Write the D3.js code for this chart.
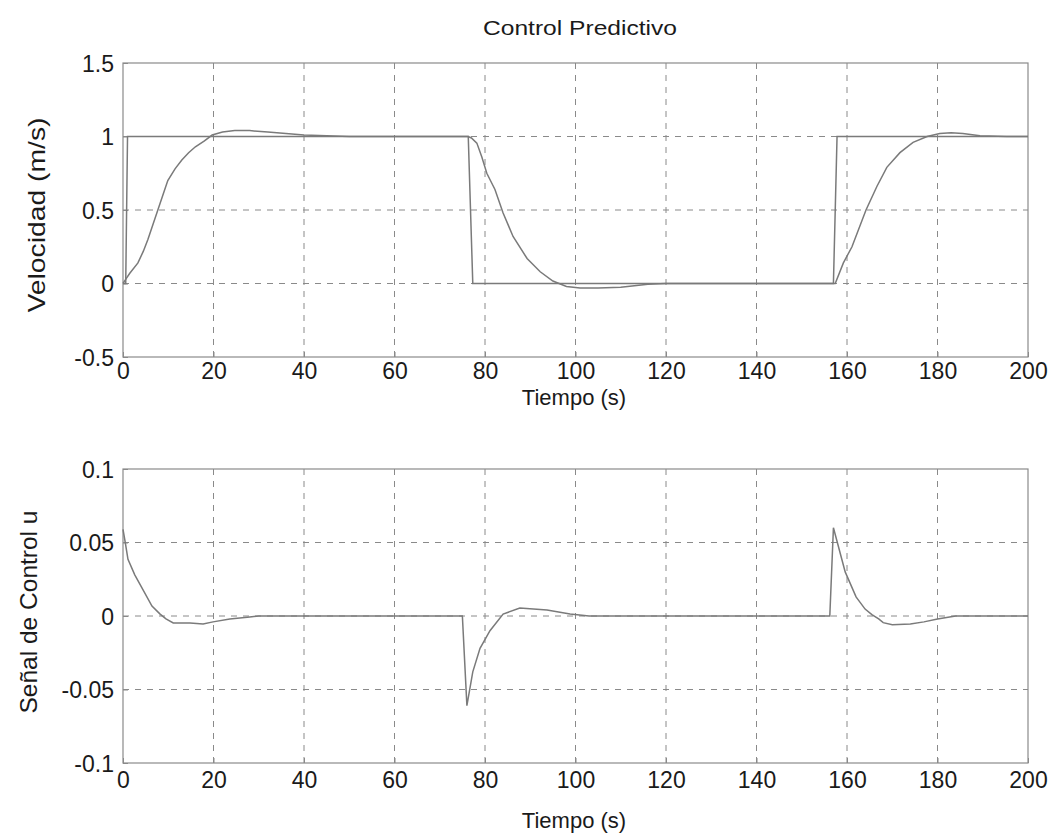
<!DOCTYPE html>
<html>
<head>
<meta charset="utf-8">
<script src="https://cdn.jsdelivr.net/npm/d3@7"></script>
<style>
  body { margin: 0; background: #fff; }
  svg text { font-family: "Liberation Sans", Arial, sans-serif; fill: #1a1a1a; }
  .grid line { stroke: #8a8a8a; stroke-dasharray: 6,6; stroke-width: 1; }
  .box { fill: none; stroke: #8a8a8a; stroke-width: 1.2; }
  .trace { fill: none; stroke: #7a7a7a; stroke-width: 1.5; }
</style>
</head>
<body>
<svg id="chart" width="1054" height="834"></svg>
<script>
// ---- data ----
const xTicks = [0, 20, 40, 60, 80, 100, 120, 140, 160, 180, 200]
const velTicks = [-0.5, 0, 0.5, 1, 1.5]
const velTickLabels = ["-0.5", "0", "0.5", "1", "1.5"]
const uTicks = [-0.1, -0.05, 0, 0.05, 0.1]
const uTickLabels = ["-0.1", "-0.05", "0", "0.05", "0.1"]

// reference velocity
const tRef = [0, 0.6, 1.0, 76.3, 77.3, 157.0, 157.8, 200]
const vRef = [0, 0, 1, 1, 0, 0, 1, 1]

// measured velocity
const tVel = [0, 0.4, 1.5, 3.3, 4.5, 5.5, 6.6, 7.7, 8.8, 9.9, 11.5, 13, 14.5, 16, 18, 19.7, 22, 24.7, 28, 32, 36, 40, 50, 60, 70, 76.3,
  77, 78.2, 79.3, 80.4, 82.2, 84, 86.2, 89.3, 92.2, 95, 98, 101, 105, 110, 113, 116, 120, 140, 157.4,
  159.2, 161.1, 164.2, 166.6, 168.8, 171.7, 174.6, 177.7, 180.5, 183, 185.6, 189.4, 195.3, 200]
const vVel = [0, 0.02, 0.07, 0.14, 0.22, 0.30, 0.40, 0.50, 0.60, 0.70, 0.78, 0.84, 0.89, 0.93, 0.97, 1.01, 1.03, 1.04, 1.04, 1.03, 1.02, 1.01, 1.0, 1.0, 1.0, 1.0,
  0.99, 0.955, 0.86, 0.75, 0.64, 0.48, 0.32, 0.17, 0.08, 0.017, -0.02, -0.03, -0.03, -0.025, -0.015, -0.005, 0, 0, 0,
  0.14, 0.25, 0.5, 0.66, 0.79, 0.89, 0.96, 1.0, 1.02, 1.025, 1.02, 1.005, 1.0, 1.0]

// control signal u
const tU = [0, 0.5, 1.1, 2.6, 4.4, 6.4, 8.2, 9.5, 11.1, 14.8, 17.7, 19.9, 23.6, 28, 30, 75,
  76, 77.3, 78.9, 81.1, 84, 87.7, 93.7, 98.8, 103, 156.2,
  157, 159.6, 162, 164, 165.5, 167, 168, 170, 174, 177, 180, 182, 184, 200]
const uVals = [0.059, 0.05, 0.0385, 0.028, 0.018, 0.0068, 0.0013, -0.002, -0.0047, -0.0047, -0.0055, -0.004, -0.002, -0.0007, 0, 0,
  -0.061, -0.038, -0.022, -0.010, 0.0013, 0.0054, 0.004, 0.0013, 0, 0,
  0.06, 0.03, 0.013, 0.0047, 0.001, -0.002, -0.0045, -0.006, -0.0055, -0.004, -0.002, -0.001, 0, 0]

const svg = d3.select("#chart")
const left = 123, right = 1028

const x = d3.scaleLinear().domain([0, 200]).range([left, right])

function panel(top, bottom, yDomain, yTicks, yLabels, yTitle, opts, series) {
  const y = d3.scaleLinear().domain(yDomain).range([bottom, top])
  const g = svg.append("g")

  // grid
  const grid = g.append("g").attr("class", "grid")
  grid.selectAll(".vx").data(xTicks.slice(1, -1)).enter().append("line")
    .attr("x1", d => x(d)).attr("x2", d => x(d))
    .attr("y1", top).attr("y2", bottom)
  grid.selectAll(".hy").data(yTicks.slice(1, -1)).enter().append("line")
    .attr("x1", left).attr("x2", right)
    .attr("y1", d => y(d)).attr("y2", d => y(d))

  // box
  g.append("rect").attr("class", "box")
    .attr("x", left).attr("y", top)
    .attr("width", right - left).attr("height", bottom - top)

  // axes (inward ticks, like matlab)
  const xb = g.append("g").attr("transform", `translate(0,${bottom})`)
    .call(d3.axisBottom(x).tickValues(xTicks).tickSizeInner(-5).tickSizeOuter(0).tickFormat(d3.format("d")))
  const yl = g.append("g").attr("transform", `translate(${left},0)`)
    .call(d3.axisLeft(y).tickValues(yTicks).tickSizeInner(-5).tickSizeOuter(0).tickPadding(9).tickFormat((d, i) => yLabels[i]))
  ;[xb, yl].forEach(a => {
    a.select(".domain").remove()
    a.selectAll(".tick line").attr("stroke", "#8a8a8a")
    a.selectAll(".tick text").attr("font-size", 23).attr("fill", "#1a1a1a")
  })
  xb.selectAll(".tick text").attr("y", opts.tickY).attr("dy", 0)
  yl.selectAll(".tick text").attr("dy", "0.36em")

  // traces
  const line = d3.line().x(d => x(d[0])).y(d => y(d[1]))
  series.forEach(s => {
    g.append("path").attr("class", "trace")
      .attr("d", line(d3.zip(s.t, s.v)))
  })

  // labels
  g.append("text").attr("x", 574).attr("y", bottom + opts.xlabGap)
    .attr("text-anchor", "middle").attr("font-size", 22)
    .text("Tiempo (s)")
  g.append("text")
    .attr("transform", `translate(${opts.ylabX},${opts.ylabY}) rotate(-90)`)
    .attr("text-anchor", "middle").attr("font-size", 24)
    .attr("textLength", opts.ylabLen).attr("lengthAdjust", "spacingAndGlyphs")
    .text(yTitle)
}

panel(63, 357, [-0.5, 1.5], velTicks, velTickLabels, "Velocidad (m/s)",
  { tickY: 22, xlabGap: 48, ylabX: 45, ylabY: 215, ylabLen: 195 },
  [{ t: tRef, v: vRef }, { t: tVel, v: vVel }])
panel(469, 763, [-0.1, 0.1], uTicks, uTickLabels, "Señal de Control u",
  { tickY: 25, xlabGap: 65, ylabX: 37, ylabY: 612, ylabLen: 203 },
  [{ t: tU, v: uVals }])

svg.append("text").attr("x", 580).attr("y", 35)
  .attr("text-anchor", "middle").attr("font-size", 21)
  .attr("textLength", 194).attr("lengthAdjust", "spacingAndGlyphs")
  .text("Control Predictivo")
</script>
</body>
</html>
